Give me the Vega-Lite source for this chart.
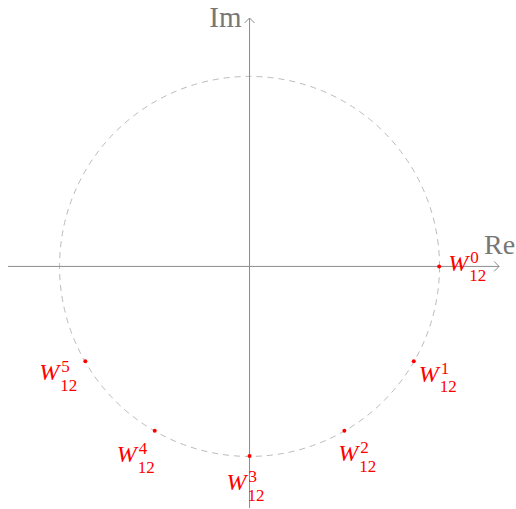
{
  "$schema": "https://vega.github.io/schema/vega-lite/v6.json",
  "width": 516,
  "height": 509,
  "autosize": {"type": "fit", "contains": "padding"},
  "padding": 0,
  "background": "white",
  "config": {"view": {"stroke": null}},
  "datasets": {
    "roots": [
      {"k": 0, "re": 1, "im": 0, "sup": "0", "sub": "12"},
      {"k": 1, "re": 0.866, "im": -0.5, "sup": "1", "sub": "12"},
      {"k": 2, "re": 0.5, "im": -0.866, "sup": "2", "sub": "12"},
      {"k": 3, "re": 0, "im": -1, "sup": "3", "sub": "12"},
      {"k": 4, "re": -0.5, "im": -0.866, "sup": "4", "sub": "12"},
      {"k": 5, "re": -0.866, "im": -0.5, "sup": "5", "sub": "12"}
    ],
    "origin": [{"re": 0, "im": 0}]
  },
  "data": {"name": "roots"},
  "encoding": {
    "x": {"field": "re", "type": "quantitative", "axis": null, "scale": {"domain": [-1.316, 1.4], "nice": false, "zero": false}},
    "y": {"field": "im", "type": "quantitative", "axis": null, "scale": {"domain": [-1.274, 1.405], "nice": false, "zero": false}}
  },
  "layer": [
    {
      "data": {"name": "origin"},
      "mark": {"type": "point", "shape": "circle", "size": 144400, "filled": false, "stroke": "#bbbbbb", "strokeWidth": 1, "strokeDash": [6, 5], "opacity": 1}
    },
    {
      "data": {"name": "origin"},
      "mark": {"type": "rule", "color": "#8c8c8c", "strokeWidth": 1},
      "encoding": {"x": {"datum": -1.274, "type": "quantitative"}, "x2": {"datum": 1.316}, "y": {"datum": 0, "type": "quantitative"}}
    },
    {
      "data": {"name": "origin"},
      "mark": {"type": "rule", "color": "#8c8c8c", "strokeWidth": 1},
      "encoding": {"y": {"datum": -1.274, "type": "quantitative"}, "y2": {"datum": 1.31}, "x": {"datum": 0, "type": "quantitative"}}
    },
    {
      "data": {"name": "origin"},
      "mark": {"type": "point", "shape": "M -1 -1 L 0 0 L -1 1", "size": 100, "filled": false, "stroke": "#8c8c8c", "strokeWidth": 1, "opacity": 1},
      "encoding": {"x": {"datum": 1.316, "type": "quantitative"}, "y": {"datum": 0, "type": "quantitative"}}
    },
    {
      "data": {"name": "origin"},
      "mark": {"type": "point", "shape": "M -1 1 L 0 0 L 1 1", "size": 100, "filled": false, "stroke": "#8c8c8c", "strokeWidth": 1, "opacity": 1},
      "encoding": {"x": {"datum": 0, "type": "quantitative"}, "y": {"datum": 1.31, "type": "quantitative"}}
    },
    {
      "data": {"name": "origin"},
      "mark": {"type": "text", "text": "Re", "font": "Liberation Serif", "fontSize": 28, "color": "#777777", "align": "left", "baseline": "alphabetic", "dx": -15, "dy": -12},
      "encoding": {"x": {"datum": 1.316, "type": "quantitative"}, "y": {"datum": 0, "type": "quantitative"}}
    },
    {
      "data": {"name": "origin"},
      "mark": {"type": "text", "text": "Im", "font": "Liberation Serif", "fontSize": 29, "color": "#777777", "align": "right", "baseline": "alphabetic", "dx": -8, "dy": 9},
      "encoding": {"x": {"datum": 0, "type": "quantitative"}, "y": {"datum": 1.31, "type": "quantitative"}}
    },
    {
      "mark": {"type": "point", "shape": "circle", "size": 16, "filled": true, "color": "#ff0000", "opacity": 1}
    },
    {
      "transform": [{"filter": "datum.k == 0"}],
      "layer": [
        {"mark": {"type": "text", "text": "W", "font": "Liberation Serif", "fontStyle": "italic", "fontSize": 24, "color": "#ff0000", "align": "left", "baseline": "alphabetic", "dx": 9, "dy": 5}},
        {"mark": {"type": "text", "font": "Liberation Serif", "fontSize": 17, "color": "#ff0000", "align": "left", "baseline": "alphabetic", "dx": 31, "dy": -3}, "encoding": {"text": {"field": "sup"}}},
        {"mark": {"type": "text", "font": "Liberation Serif", "fontSize": 17, "color": "#ff0000", "align": "left", "baseline": "alphabetic", "dx": 30, "dy": 15}, "encoding": {"text": {"field": "sub"}}}
      ]
    },
    {
      "transform": [{"filter": "datum.k == 1"}],
      "layer": [
        {"mark": {"type": "text", "text": "W", "font": "Liberation Serif", "fontStyle": "italic", "fontSize": 24, "color": "#ff0000", "align": "left", "baseline": "alphabetic", "dx": 5, "dy": 21}},
        {"mark": {"type": "text", "font": "Liberation Serif", "fontSize": 17, "color": "#ff0000", "align": "left", "baseline": "alphabetic", "dx": 27, "dy": 13}, "encoding": {"text": {"field": "sup"}}},
        {"mark": {"type": "text", "font": "Liberation Serif", "fontSize": 17, "color": "#ff0000", "align": "left", "baseline": "alphabetic", "dx": 26, "dy": 31}, "encoding": {"text": {"field": "sub"}}}
      ]
    },
    {
      "transform": [{"filter": "datum.k == 2"}],
      "layer": [
        {"mark": {"type": "text", "text": "W", "font": "Liberation Serif", "fontStyle": "italic", "fontSize": 24, "color": "#ff0000", "align": "left", "baseline": "alphabetic", "dx": -6, "dy": 30}},
        {"mark": {"type": "text", "font": "Liberation Serif", "fontSize": 17, "color": "#ff0000", "align": "left", "baseline": "alphabetic", "dx": 16, "dy": 22}, "encoding": {"text": {"field": "sup"}}},
        {"mark": {"type": "text", "font": "Liberation Serif", "fontSize": 17, "color": "#ff0000", "align": "left", "baseline": "alphabetic", "dx": 15, "dy": 41}, "encoding": {"text": {"field": "sub"}}}
      ]
    },
    {
      "transform": [{"filter": "datum.k == 3"}],
      "layer": [
        {"mark": {"type": "text", "text": "W", "font": "Liberation Serif", "fontStyle": "italic", "fontSize": 24, "color": "#ff0000", "align": "left", "baseline": "alphabetic", "dx": -23, "dy": 34}},
        {"mark": {"type": "text", "font": "Liberation Serif", "fontSize": 17, "color": "#ff0000", "align": "left", "baseline": "alphabetic", "dx": -1, "dy": 26}, "encoding": {"text": {"field": "sup"}}},
        {"mark": {"type": "text", "font": "Liberation Serif", "fontSize": 17, "color": "#ff0000", "align": "left", "baseline": "alphabetic", "dx": -2, "dy": 45}, "encoding": {"text": {"field": "sub"}}}
      ]
    },
    {
      "transform": [{"filter": "datum.k == 4"}],
      "layer": [
        {"mark": {"type": "text", "text": "W", "font": "Liberation Serif", "fontStyle": "italic", "fontSize": 24, "color": "#ff0000", "align": "left", "baseline": "alphabetic", "dx": -38, "dy": 31}},
        {"mark": {"type": "text", "font": "Liberation Serif", "fontSize": 17, "color": "#ff0000", "align": "left", "baseline": "alphabetic", "dx": -16, "dy": 23}, "encoding": {"text": {"field": "sup"}}},
        {"mark": {"type": "text", "font": "Liberation Serif", "fontSize": 17, "color": "#ff0000", "align": "left", "baseline": "alphabetic", "dx": -17, "dy": 42}, "encoding": {"text": {"field": "sub"}}}
      ]
    },
    {
      "transform": [{"filter": "datum.k == 5"}],
      "layer": [
        {"mark": {"type": "text", "text": "W", "font": "Liberation Serif", "fontStyle": "italic", "fontSize": 24, "color": "#ff0000", "align": "left", "baseline": "alphabetic", "dx": -46, "dy": 19}},
        {"mark": {"type": "text", "font": "Liberation Serif", "fontSize": 17, "color": "#ff0000", "align": "left", "baseline": "alphabetic", "dx": -24, "dy": 11}, "encoding": {"text": {"field": "sup"}}},
        {"mark": {"type": "text", "font": "Liberation Serif", "fontSize": 17, "color": "#ff0000", "align": "left", "baseline": "alphabetic", "dx": -25, "dy": 30}, "encoding": {"text": {"field": "sub"}}}
      ]
    }
  ]
}
